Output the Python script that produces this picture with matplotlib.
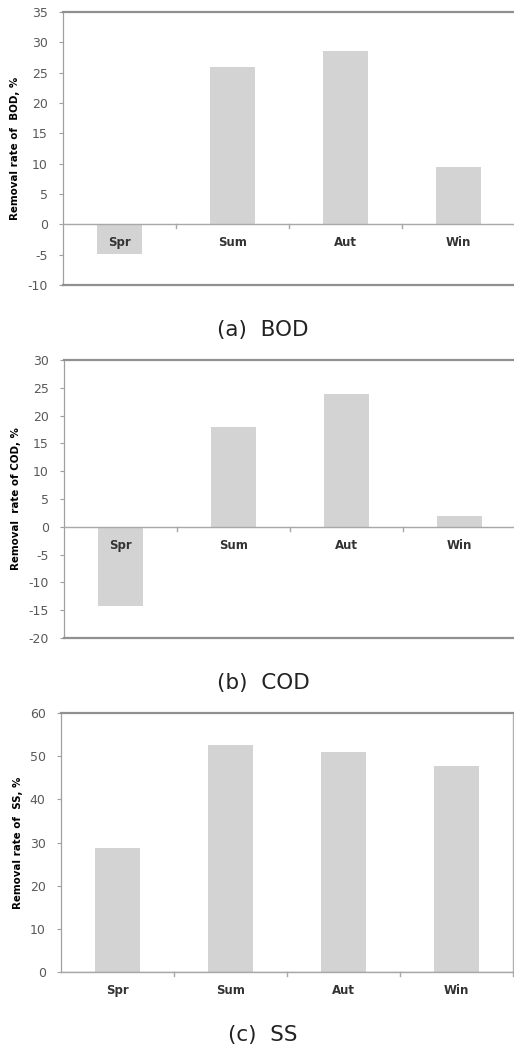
import matplotlib.pyplot as plt
import numpy as np

seasons = ['Spr', 'Sum', 'Aut', 'Win']
bod = [-4.9, 25.9, 28.6, 9.5]
cod = [-14.3, 18.0, 23.9, 1.9]
ss = [28.8, 52.6, 50.9, 47.7]

bar_color = '#d3d3d3'
tick_color = '#595959'

fig = plt.figure(figsize=(5.14, 10.49), dpi=100)


def draw_panel(rect, values, ylim, yticks, ylabel, caption, cap_y, labels_at_zero):
    ax = fig.add_axes(rect)
    x = np.arange(len(seasons))
    ax.bar(x, values, width=0.4, color=bar_color, zorder=2)
    ax.set_xlim(-0.5, 3.5)
    ax.set_ylim(*ylim)
    ax.set_yticks(yticks)
    ax.set_yticklabels([str(t) for t in yticks], color=tick_color, fontsize=9)
    ax.tick_params(axis='y', length=3, width=0.8, color='#a0a0a0', pad=8)
    ax.spines['top'].set_color('#909090')
    ax.spines['top'].set_linewidth(1.6)
    ax.spines['right'].set_color('#b0b0b0')
    ax.spines['right'].set_linewidth(1.0)
    ax.spines['left'].set_color('#a0a0a0')
    ax.spines['left'].set_linewidth(0.9)
    if labels_at_zero:
        ax.spines['bottom'].set_color('#909090')
        ax.spines['bottom'].set_linewidth(1.6)
    else:
        ax.spines['bottom'].set_color('#a8a8a8')
        ax.spines['bottom'].set_linewidth(1.0)

    # category axis line at zero with boundary ticks
    ax.axhline(0, color='#a8a8a8', lw=1.0, zorder=3)
    ax.set_xticks([])
    span = ylim[1] - ylim[0]
    bounds = [0.5, 1.5, 2.5] if labels_at_zero else [0.5, 1.5, 2.5, 3.5]
    for b in bounds:
        ax.plot([b, b], [0, -0.014 * span], color='#a8a8a8', lw=1.0,
                clip_on=False, zorder=3)
    for i, lab in enumerate(seasons):
        ax.text(i, -0.066 * span if labels_at_zero else -0.07 * span, lab,
                ha='center', va='center', fontsize=8.5, fontweight='bold',
                color='#333333', zorder=4)
    ax.set_ylabel(ylabel, fontsize=7.4, fontweight='bold', labelpad=5)
    fig.text(0.512, cap_y, caption, ha='center', va='center', fontsize=15.5,
             color='#222222', family='DejaVu Sans')
    return ax


draw_panel([0.1226, 0.7283, 0.879, 0.2602], bod, (-10, 35),
           [-10, -5, 0, 5, 10, 15, 20, 25, 30, 35],
           'Removal rate of  BOD, %', '(a)  BOD', 1 - 330 / 1049, True)
draw_panel([0.1245, 0.3918, 0.879, 0.265], cod, (-20, 30),
           [-20, -15, -10, -5, 0, 5, 10, 15, 20, 25, 30],
           'Removal  rate of COD, %', '(b)  COD', 1 - 683 / 1049, True)
draw_panel([0.1187, 0.0734, 0.879, 0.2469], ss, (0, 60),
           [0, 10, 20, 30, 40, 50, 60],
           'Removal rate of  SS, %', '(c)  SS', 1 - 1035 / 1049, False)

plt.savefig('out.png', dpi=100)
